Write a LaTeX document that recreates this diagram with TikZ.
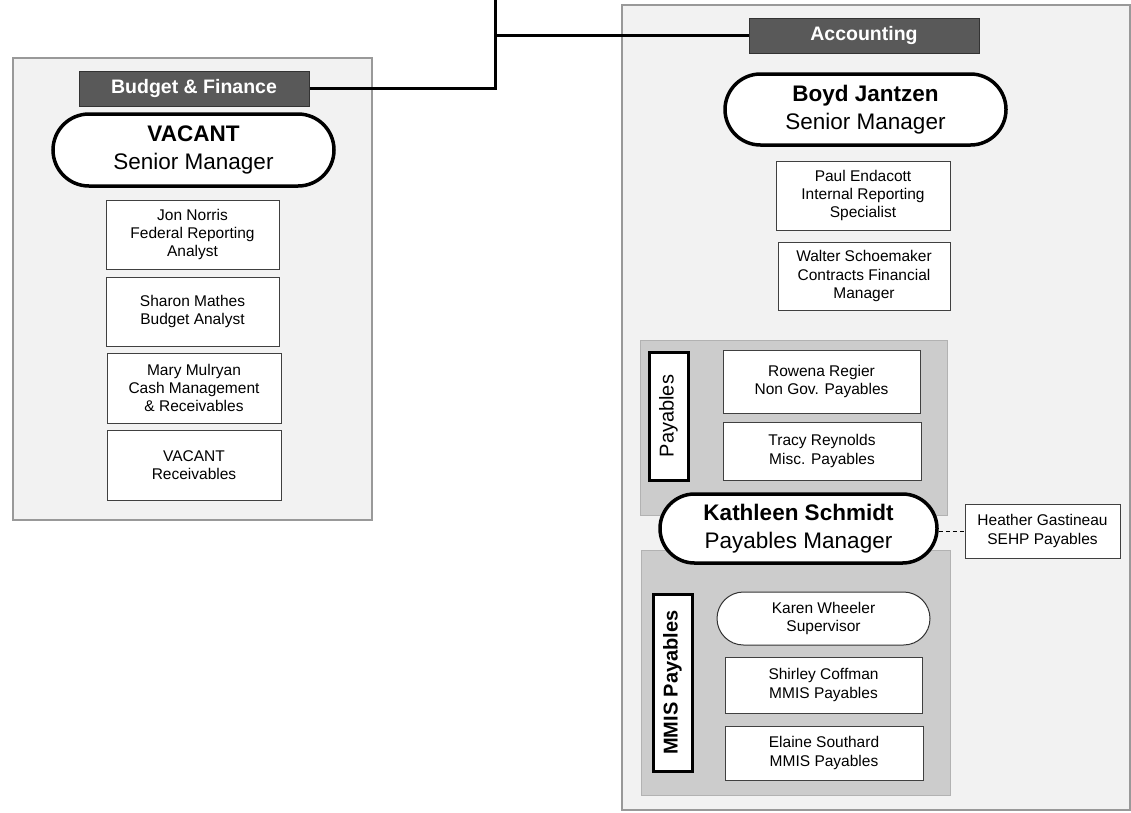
\documentclass[tikz,border=0pt]{standalone}
\usepackage{fontspec}
\setmainfont{Liberation Sans}
\usetikzlibrary{shapes.misc}

\begin{document}
\begin{tikzpicture}[x=1pt,y=-1pt,
  panel/.style={draw=black!40,line width=1.5pt,fill=black!5},
  group/.style={draw=black!30,line width=1pt,fill=black!20},
  headbox/.style={draw=black!80,line width=1pt,fill=black!65,text=white,
    font=\fontsize{19.5}{22}\selectfont\bfseries,
    minimum width=230pt,minimum height=35pt,inner sep=0pt},
  mgroval/.style={rounded rectangle,draw,line width=3.5pt,fill=white,align=center,
    font=\fontsize{22.5}{28}\selectfont,inner sep=0pt},
  supoval/.style={rounded rectangle,draw=black!80,line width=1pt,fill=white,align=center,
    font=\fontsize{15.5}{18.3}\selectfont,inner sep=0pt},
  staffbox/.style={draw=black!75,line width=1pt,fill=white,align=center,
    font=\fontsize{15.5}{18.3}\selectfont,inner sep=0pt},
  teamtag/.style={draw,line width=3pt,fill=white,rotate=90,inner sep=0pt,
    minimum height=39pt,font=\fontsize{20}{24}\selectfont},
  link/.style={line width=3pt}]
  \useasboundingbox (0,0) rectangle (1131,812);

  % panels and groups
  \draw[panel] (13,58) rectangle (372,520);
  \draw[panel] (622,5) rectangle (1130,810);
  \draw[group] (640,340) rectangle (947,515);
  \draw[group] (641,550) rectangle (950,795);

  % headers
  \node[headbox] (budget) at (194,88.5) {Budget \& Finance};
  \node[headbox] (acct) at (864,35.5) {Accounting};

  \coordinate (chief) at (495,0);
  \draw[link] (budget.east) -| (chief);
  \draw[link] (acct.west) -- (acct.west -| chief);

  % Budget & Finance
  \node[mgroval,minimum width=281pt,minimum height=72pt] (vacmgr) at (193.5,150) {{\bfseries VACANT}\\Senior Manager};
  \node[staffbox,minimum width=173pt,minimum height=69pt] (norris) at (192.5,234.5) {Jon Norris\\Federal Reporting\\Analyst};
  \node[staffbox,minimum width=173pt,minimum height=69pt] (mathes) at (192.5,311.5) {Sharon Mathes\\Budget Analyst};
  \node[staffbox,minimum width=174pt,minimum height=70pt] (mulryan) at (194,388) {Mary Mulryan\\Cash Management\\\& Receivables};
  \node[staffbox,minimum width=174pt,minimum height=70pt] (vacrec) at (194,465) {VACANT\\Receivables};

  % Accounting
  \node[mgroval,minimum width=281pt,minimum height=71pt] (jantzen) at (865.5,109.5) {{\bfseries Boyd Jantzen}\\Senior Manager};
  \node[staffbox,minimum width=174pt,minimum height=69pt] (endacott) at (863,195.5) {Paul Endacott\\Internal Reporting\\Specialist};
  \node[staffbox,minimum width=172pt,minimum height=68pt] (schoemaker) at (864,276) {Walter Schoemaker\\Contracts Financial\\Manager};

  % Payables
  \node[teamtag,minimum width=128pt] (paytag) at (668.5,416) {Payables};
  \node[staffbox,minimum width=197pt,minimum height=63pt] (regier) at (821.5,381.5) {Rowena Regier\\Non Gov. Payables};
  \node[staffbox,minimum width=198pt,minimum height=58pt] (reynolds) at (822,451) {Tracy Reynolds\\Misc. Payables};

  \node[mgroval,minimum width=277pt,minimum height=69pt] (schmidt) at (798.5,528.5) {{\bfseries Kathleen Schmidt}\\Payables Manager};
  \node[staffbox,minimum width=155pt,minimum height=54pt] (gastineau) at (1042.5,531) {Heather Gastineau\\SEHP Payables};
  \draw[line width=1pt,dash pattern=on 4pt off 3pt] (schmidt.east |- gastineau.west) -- (gastineau.west);

  % MMIS Payables
  \node[teamtag,minimum width=177pt,font=\fontsize{20}{24}\selectfont\bfseries] (mmistag) at (672.5,682.5) {MMIS Payables};
  \node[supoval,minimum width=213pt,minimum height=53pt] (wheeler) at (823.5,618.5) {Karen Wheeler\\Supervisor};
  \node[staffbox,minimum width=197pt,minimum height=56pt] (coffman) at (823.5,685) {Shirley Coffman\\MMIS Payables};
  \node[staffbox,minimum width=198pt,minimum height=54pt] (southard) at (824,753) {Elaine Southard\\MMIS Payables};
\end{tikzpicture}
\end{document}
